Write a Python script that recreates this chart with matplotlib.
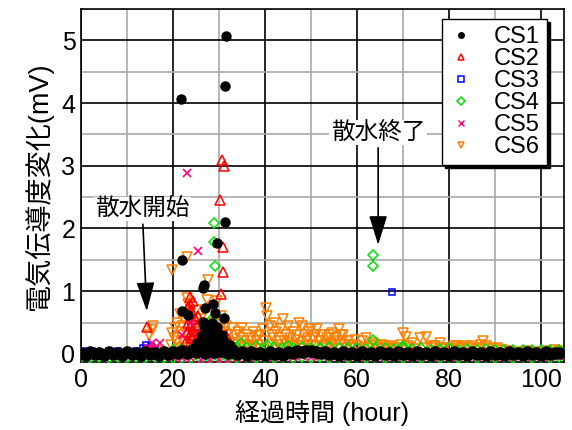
import matplotlib
matplotlib.use('Agg')
import matplotlib.pyplot as plt
from matplotlib.ticker import MultipleLocator

plt.rcParams['font.family'] = ['Liberation Sans', 'Noto Sans CJK JP', 'DejaVu Sans']

# hourly readings of the quiet baseline (hours 0..104)
base_t = list(range(0, 105))
cs1_base = [
    0.01, -0.01, 0.03, 0.00, 0.02, -0.01, 0.03, 0.00, 0.02, -0.01, 0.03, 0.00, 0.02, -0.01, 0.03,
    0.00, 0.02, -0.01, 0.03, 0.00, 0.03, 0.01, 0.04, 0.02, 0.05, 0.03, 0.06, 0.02, 0.05, 0.03,
    0.04, 0.05, 0.02, 0.03, 0.00, 0.03, -0.01, 0.03, 0.00, 0.02, -0.01, 0.03, 0.00, 0.02, -0.01,
    0.03, 0.01, 0.04, 0.03, 0.05, 0.04, 0.03, 0.01, 0.03, 0.00, 0.02, -0.01, 0.03, 0.00, 0.02,
    -0.01, 0.03, 0.00, 0.02, -0.01, 0.03, 0.00, 0.02, -0.01, 0.03, 0.00, 0.02, -0.01, 0.03, 0.00,
    0.02, -0.01, 0.03, 0.00, 0.02, -0.01, 0.03, 0.00, 0.02, -0.01, 0.03, 0.00, 0.02, -0.01, 0.03,
    0.00, 0.02, -0.01, 0.03, 0.00, 0.02, -0.01, 0.03, 0.00, 0.02, -0.01, 0.03, 0.00, 0.02, 0.01,
]
# two-hourly baselines of CS4 (green) and CS5 (pink), hours 0,2,..,104
base2_t = list(range(0, 105, 2))
cs4_base = [
    0.02, 0.03, 0.02, 0.03, 0.02, 0.03, 0.02, 0.03, 0.04, 0.05, 0.07, 0.09, 0.10, 0.12,
    0.10, 0.11, 0.09, 0.11, 0.10, 0.12, 0.10, 0.11, 0.09, 0.10, 0.11, 0.10, 0.09, 0.11,
    0.10, 0.09, 0.10, 0.08, 0.09, 0.10, 0.08, 0.09, 0.08, 0.09, 0.07, 0.08, 0.09, 0.07,
    0.08, 0.07, 0.08, 0.07, 0.06, 0.07, 0.06, 0.07, 0.06, 0.07, 0.06,
]
cs4_low = [
    -0.05, -0.06, -0.05, -0.06, -0.05, -0.06, -0.05, -0.06, -0.05, -0.06, -0.06, -0.07, -0.07, -0.08,
    -0.07, -0.07, -0.06, -0.06, -0.05, -0.06, -0.05, -0.06, -0.05, -0.06, -0.05, -0.06, -0.05, -0.06,
    -0.05, -0.06, -0.05, -0.06, -0.05, -0.06, -0.05, -0.06, -0.05, -0.06, -0.05, -0.06, -0.05, -0.06,
    -0.05, -0.06, -0.05, -0.06, -0.05, -0.06, -0.05, -0.06, -0.05, -0.06, -0.05,
]
cs5_base = [
    -0.03, -0.04, -0.03, -0.04, -0.03, -0.04, -0.03, -0.03, -0.04, -0.05, -0.05, -0.06, -0.07, -0.09,
    -0.09, -0.10, -0.09, -0.06, -0.05, -0.05, -0.04, -0.05, -0.04, -0.05, -0.04, -0.05, -0.04, -0.05,
    -0.04, -0.05, -0.04, -0.05, -0.04, -0.05, -0.04, -0.05, -0.04, -0.05, -0.04, -0.05, -0.04, -0.05,
    -0.04, -0.05, -0.04, -0.05, -0.04, -0.05, -0.04, -0.05, -0.04, -0.05, -0.04,
]

# scattered readings off the baseline
cs1_t = [21.7, 22.0, 22.0, 23.3, 24.5, 25.2, 25.5, 26.0, 26.5, 26.5, 26.7, 26.8, 27.0, 27.2, 27.4,
         27.5, 28.0, 28.3, 28.5, 28.7, 28.8, 29.0, 29.2, 29.5, 29.6, 29.6, 30.0, 30.2, 30.6, 31.0,
         31.1, 31.3, 31.3, 31.5, 32.5, 33.0, 27.8, 29.8, 26.2, 30.8]
cs1_v = [4.07, 1.50, 0.68, 0.62, 0.10, 0.17, 0.15, 0.20, 0.51, 1.05, 1.10, 0.45, 0.74, 0.35, 0.34,
         0.20, 0.30, 0.45, 0.50, 0.80, 0.18, 0.40, 0.65, 0.25, 0.43, 1.77, 0.30, 0.12, 0.30, 0.20,
         0.57, 2.10, 4.28, 5.07, 0.15, 0.08, 0.12, 0.10, 0.30, 0.10]

cs2_t = [14.3, 15.0, 16.0, 22.8, 23.0, 23.2, 23.5, 23.5, 23.7, 23.8, 24.0, 24.0, 24.2, 24.4, 24.6,
         24.8, 25.0, 25.3, 25.5, 26.0, 26.5, 27.0, 30.2, 30.4, 30.6, 30.9, 30.9, 31.0, 31.5, 32.0,
         23.3, 23.9, 24.3, 23.6, 24.7]
cs2_v = [0.43, 0.05, 0.08, 0.20, 0.35, 0.50, 0.65, 0.15, 0.80, 0.90, 0.70, 0.25, 0.55, 0.40, 0.30,
         0.20, 0.12, 0.45, 0.60, 0.35, 0.20, 0.10, 2.45, 0.96, 3.10, 1.30, 1.70, 3.00, 0.30, 0.10,
         0.75, 0.45, 0.85, 0.30, 0.55]

cs3_t = [1.0, 2.5, 4.0, 6.0, 8.0, 10.0, 12.0, 13.5, 14.2, 15.3, 16.0, 24.8, 26.0, 27.0, 28.0, 67.6]
cs3_v = [0.04, 0.05, 0.03, 0.04, 0.05, 0.03, 0.04, 0.10, 0.15, 0.12, 0.06, 0.33, 0.12, 0.08, 0.15, 0.98]

cs4_t = [28.5, 29.0, 29.0, 29.0, 29.2, 34.8, 40.4, 45.0, 52.0, 63.4, 63.4, 63.5, 70.0]
cs4_v = [0.55, 0.30, 2.08, 1.78, 1.40, 0.18, 0.15, 0.12, 0.10, 1.58, 1.40, 0.22, 0.12]

cs5_t = [14.5, 15.4, 16.0, 17.2, 22.0, 23.0, 24.0, 25.4]
cs5_v = [0.10, 0.17, 0.10, 0.17, 0.30, 2.88, 0.50, 1.64]

cs6_t = [14.8, 15.4, 15.7, 16.2, 19.5, 19.8, 19.8, 20.2, 20.5, 20.9, 21.2, 21.5, 21.8, 22.2, 22.5,
         23.0, 23.1, 23.2, 23.5, 24.0, 24.5, 25.0, 25.5, 26.0, 26.5, 27.0, 27.4, 27.6, 28.0, 28.5,
         29.0, 29.5, 30.0, 30.5, 31.0, 31.5, 32.0, 32.8, 33.5, 34.0, 34.5, 35.0, 35.5, 36.0, 36.5,
         37.0, 37.5, 38.0, 38.5, 39.0, 39.5, 40.2, 40.5, 41.0, 41.5, 42.0, 42.5, 43.0, 43.5, 44.0,
         44.5, 45.0, 45.5, 46.0, 46.5, 47.0, 47.5, 48.0, 48.5, 49.0, 49.5, 50.0, 50.5, 51.0, 51.3,
         52.0, 52.5, 53.0, 53.5, 54.0, 54.5, 55.0, 55.5, 56.0, 56.5, 57.0, 57.5, 58.0, 59.0, 60.0,
         61.0, 62.0, 63.0, 64.0, 65.0, 66.0, 67.0, 68.0, 69.0, 70.0, 70.6, 71.5, 72.5, 73.7, 75.0,
         76.0, 77.0, 78.0, 79.0, 80.0, 81.0, 81.7, 82.5, 83.5, 85.0, 86.0, 87.0, 87.5, 88.5, 89.5,
         90.5, 91.5, 93.0, 95.0, 97.0, 99.0, 101.0, 103.0, 104.0,
         33.0, 36.2, 38.8, 41.2, 43.2, 45.8, 48.2, 50.8, 53.2, 55.8, 58.5, 60.5, 62.5, 64.5, 66.5,
         32.3, 34.2, 35.8, 37.3, 38.2, 39.8, 41.8, 42.8, 44.2, 45.3, 46.8, 47.8, 49.3, 50.2, 51.8,
         52.8, 54.3, 55.2, 56.8, 57.8, 59.5, 61.5, 63.5, 65.5, 67.5, 69.5, 71.0, 72.0, 74.5, 76.5,
         78.5, 80.5, 82.0, 84.0, 86.5, 88.0, 20.8, 21.9, 22.8, 24.3, 25.3, 26.3, 28.8, 30.3, 31.8]
cs6_v = [0.30, 0.38, 0.44, 0.05, 0.15, 1.34, 0.34, 0.25, 0.42, 0.49, 0.10, 0.63, 0.30, 0.20, 0.55,
         0.89, 1.55, 0.80, 0.60, 0.45, 0.35, 0.70, 0.25, 0.55, 0.15, 0.40, 0.86, 1.18, 0.30, 0.75,
         0.50, 0.84, 0.25, 0.60, 0.35, 0.45, 0.20, 0.41, 0.30, 0.15, 0.25, 0.41, 0.20, 0.30, 0.10,
         0.25, 0.35, 0.20, 0.15, 0.30, 0.40, 0.74, 0.60, 0.45, 0.30, 0.50, 0.35, 0.20, 0.40, 0.55,
         0.30, 0.45, 0.25, 0.35, 0.15, 0.30, 0.50, 0.45, 0.30, 0.20, 0.35, 0.40, 0.25, 0.30, 0.40,
         0.20, 0.30, 0.15, 0.25, 0.30, 0.33, 0.20, 0.25, 0.40, 0.30, 0.30, 0.15, 0.20, 0.15, 0.12,
         0.20, 0.25, 0.12, 0.15, 0.10, 0.12, 0.10, 0.08, 0.10, 0.33, 0.27, 0.10, 0.08, 0.25, 0.27,
         0.10, 0.12, 0.18, 0.08, 0.10, 0.12, 0.13, 0.10, 0.12, 0.13, 0.10, 0.15, 0.20, 0.10, 0.08,
         0.10, 0.06, 0.04, 0.03, 0.04, 0.03, 0.05, 0.06, 0.04,
         0.10, 0.12, 0.08, 0.15, 0.10, 0.12, 0.08, 0.12, 0.10, 0.08, 0.10, 0.08, 0.10, 0.08, 0.10,
         0.18, 0.35, 0.15, 0.12, 0.28, 0.20, 0.25, 0.15, 0.20, 0.18, 0.22, 0.12, 0.25, 0.15, 0.20,
         0.12, 0.18, 0.15, 0.20, 0.10, 0.22, 0.10, 0.18, 0.15, 0.12, 0.15, 0.12, 0.18, 0.10, 0.12,
         0.10, 0.08, 0.08, 0.10, 0.08, 0.12, 0.20, 0.45, 0.35, 0.25, 0.50, 0.35, 0.20, 0.40, 0.30]

fig = plt.figure(figsize=(5.72, 4.30), dpi=100)
ax = fig.add_axes([0.1416, 0.158, 0.8444, 0.821])

open_kw = dict(linestyle='none', markerfacecolor='none', markeredgewidth=1.1)
ax.plot(cs6_t, cs6_v, marker='v', color='#ff8000', markersize=7, zorder=2, **open_kw)
ax.plot(base2_t, cs4_base, marker='D', color='#00e000', markersize=5.5, zorder=3, **open_kw)
ax.plot(base2_t, cs4_low, marker='D', color='#00e000', markersize=5.5, zorder=3, **open_kw)
ax.plot(cs4_t, cs4_v, marker='D', color='#00e000', markersize=5.5, zorder=3, **open_kw)
ax.plot(cs3_t, cs3_v, marker='s', color='#0000ff', markersize=5, zorder=3, **open_kw)
ax.plot(cs2_t, cs2_v, marker='^', color='#ff0000', markersize=6.5, zorder=4, **open_kw)
ax.plot(base2_t, cs5_base, marker='x', color='#ff0080', markersize=5.5, linestyle='none',
        markeredgewidth=1.2, zorder=4)
ax.plot(cs5_t, cs5_v, marker='x', color='#ff0080', markersize=5.5, linestyle='none',
        markeredgewidth=1.2, zorder=4)
ax.plot(base_t, cs1_base, marker='o', color='black', markersize=8, linestyle='none', zorder=5)
ax.plot(cs1_t, cs1_v, marker='o', color='black', markersize=6.5, linestyle='none', zorder=5)

ax.set_xlim(0, 105)
ax.set_ylim(-0.13, 5.5)
ax.xaxis.set_major_locator(MultipleLocator(20))
ax.xaxis.set_minor_locator(MultipleLocator(10))
ax.yaxis.set_major_locator(MultipleLocator(1))
ax.yaxis.set_minor_locator(MultipleLocator(0.5))
ax.grid(which='minor', color='#aaaaaa', linewidth=1.2)
ax.grid(which='major', color='black', linewidth=1.2)
ax.set_axisbelow(True)
ax.tick_params(which='both', length=0, labelsize=18)
ax.tick_params(axis='x', pad=4)
ax.tick_params(axis='y', pad=4)
for s in ax.spines.values():
    s.set_linewidth(1.2)

ax.set_xlabel('経過時間 (hour)', fontsize=18, labelpad=6)
ax.set_ylabel('電気伝導度変化(mV)', fontsize=19.5, labelpad=6)

# legend proxies
handles = [
    plt.Line2D([], [], marker='o', color='black', linestyle='none', markersize=4),
    plt.Line2D([], [], marker='^', color='#ff0000', markersize=5, **open_kw),
    plt.Line2D([], [], marker='s', color='#0000ff', markersize=4, **open_kw),
    plt.Line2D([], [], marker='D', color='#00e000', markersize=4.5, **open_kw),
    plt.Line2D([], [], marker='x', color='#ff0080', linestyle='none', markersize=5),
    plt.Line2D([], [], marker='v', color='#ff8000', markersize=5, **open_kw),
]
leg = ax.legend(handles, ['CS1', 'CS2', 'CS3', 'CS4', 'CS5', 'CS6'],
                loc='upper right', bbox_to_anchor=(0.965, 0.972), borderaxespad=0,
                fontsize=17, fancybox=False, framealpha=1, edgecolor='black',
                shadow={'color': 'black', 'alpha': 1}, handlelength=1.0,
                handletextpad=0.9, labelspacing=0.0, borderpad=0.3)
leg.get_frame().set_linewidth(1.0)
leg.set_zorder(10)

txt_bbox = dict(facecolor='white', edgecolor='none', pad=1)
arrow = dict(arrowstyle='-|>,head_length=0.9,head_width=0.28', color='black',
             lw=1.2, mutation_scale=20, shrinkA=2, shrinkB=0)
ax.annotate('散水開始', xy=(14.3, 0.68), xytext=(13.3, 2.31), fontsize=17,
            ha='center', va='center', bbox=txt_bbox, arrowprops=arrow, zorder=8)
ax.annotate('散水終了', xy=(64.6, 1.74), xytext=(64.6, 3.53), fontsize=17,
            ha='center', va='center', bbox=txt_bbox, arrowprops=arrow, zorder=8)

fig.savefig('out.png', dpi=100)
